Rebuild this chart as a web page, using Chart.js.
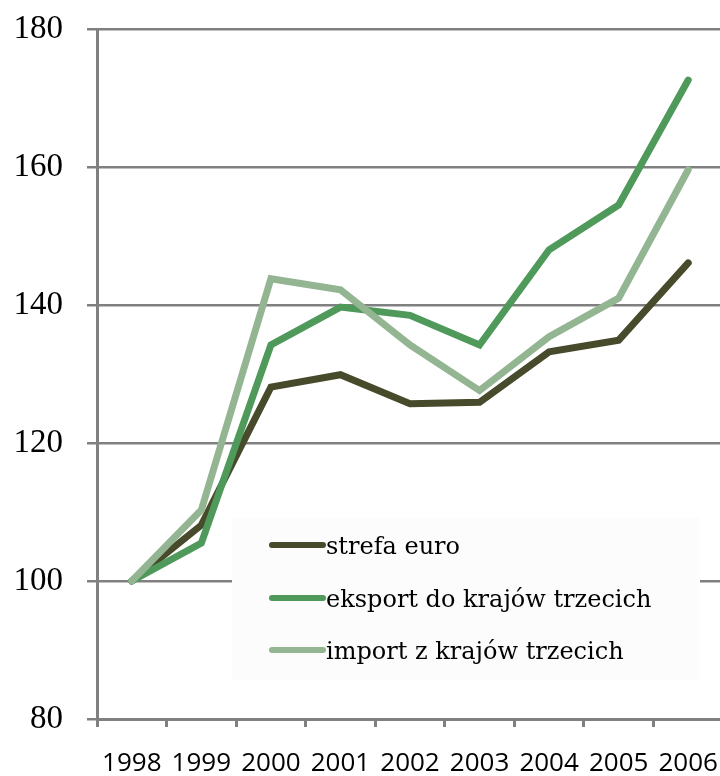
<!DOCTYPE html>
<html>
<head>
<meta charset="utf-8">
<script src="https://cdn.jsdelivr.net/npm/chart.js@4"></script>
<style>
html, body { margin: 0; padding: 0; overflow: hidden; background: #ffffff; }
#wrap { width: 726px; height: 776px; }
</style>
</head>
<body>
<div id="wrap"><canvas id="c" width="726" height="776"></canvas></div>
<script>
const years = ['1998', '1999', '2000', '2001', '2002', '2003', '2004', '2005', '2006'];
const strefaEuro = [100, 108.1, 128.1, 129.9, 125.7, 125.9, 133.2, 134.9, 146.1];
const eksport = [100, 105.5, 134.2, 139.7, 138.5, 134.2, 148.0, 154.5, 172.6];
const importTrzecie = [100, 110.3, 143.8, 142.2, 134.2, 127.6, 135.4, 141.0, 159.6];
const seriesNames = ['strefa euro', 'eksport do krajów trzecich', 'import z krajów trzecich'];
const seriesColors = ['#474a2b', '#4f9a5b', '#93b592'];
const yTicks = [80, 100, 120, 140, 160, 180];

const legendPlugin = {
  id: 'insideLegend',
  afterDatasetsDraw(chart) {
    const ctx = chart.ctx;
    ctx.save();
    ctx.fillStyle = '#fcfcfc';
    ctx.fillRect(232, 518, 468, 162);
    const centers = [545, 598, 650];
    chart.data.datasets.forEach((ds, i) => {
      const cy = centers[i];
      ctx.strokeStyle = ds.borderColor;
      ctx.lineWidth = 6;
      ctx.lineCap = 'round';
      ctx.beginPath();
      ctx.moveTo(272, cy);
      ctx.lineTo(323, cy);
      ctx.stroke();
      ctx.fillStyle = '#000000';
      ctx.font = '24px "DejaVu Serif"';
      ctx.textBaseline = 'alphabetic';
      ctx.textAlign = 'left';
      ctx.fillText(ds.label, 326, cy + 9);
    });
    ctx.restore();
  }
};

new Chart(document.getElementById('c'), {
  type: 'line',
  data: {
    labels: years,
    datasets: [
      { label: seriesNames[0], data: strefaEuro, borderColor: seriesColors[0], order: 2 },
      { label: seriesNames[1], data: eksport, borderColor: seriesColors[1], order: 1 },
      { label: seriesNames[2], data: importTrzecie, borderColor: seriesColors[2], order: 0 }
    ].map(d => Object.assign(d, {
      borderWidth: 7,
      pointRadius: 0,
      tension: 0,
      fill: false,
      borderCapStyle: 'round',
      borderJoinStyle: 'miter'
    }))
  },
  options: {
    responsive: false,
    animation: false,
    layout: { autoPadding: false, padding: { top: 29, right: 3, left: 0, bottom: 0 } },
    plugins: { legend: { display: false }, tooltip: { enabled: false } },
    scales: {
      x: {
        offset: true,
        grid: {
          offset: true,
          display: true,
          drawOnChartArea: false,
          drawTicks: true,
          tickLength: 8,
          color: '#808080',
          lineWidth: 3
        },
        border: { display: true, color: '#808080', width: 3 },
        ticks: {
          color: '#000000',
          font: { family: '"Open Sans"', size: 26 },
          padding: 21,
          maxRotation: 0,
          autoSkip: false
        },
        afterFit(scale) {
          scale.height = 57;
          scale.paddingLeft = 0;
          scale.paddingRight = 0;
        }
      },
      y: {
        min: 80,
        max: 180,
        afterBuildTicks(scale) { scale.ticks = yTicks.map(v => ({ value: v })); },
        grid: {
          color: '#808080',
          lineWidth: 2.5,
          tickLength: 10
        },
        border: { display: true, color: '#808080', width: 3 },
        ticks: {
          color: '#000000',
          font: { family: '"Liberation Serif"', size: 33 },
          padding: 24
        },
        afterFit(scale) {
          scale.width = 97;
          scale.paddingTop = 0;
          scale.paddingBottom = 0;
        }
      }
    }
  },
  plugins: [legendPlugin]
});
</script>
</body>
</html>
